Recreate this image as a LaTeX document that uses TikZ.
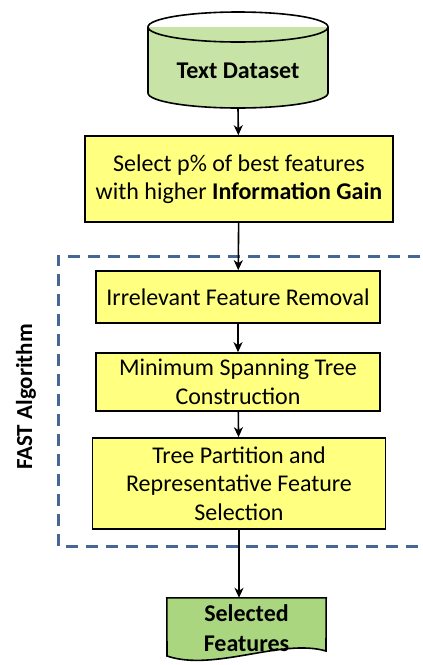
\documentclass[tikz,border=0pt]{standalone}
\usepackage{fontspec}
\setmainfont{Carlito}
\usetikzlibrary{arrows.meta,backgrounds}

\definecolor{dbgreen}{RGB}{199,227,165}
\definecolor{docgreen}{RGB}{169,214,126}
\definecolor{boxyellow}{RGB}{255,255,128}
\definecolor{fastblue}{RGB}{68,103,148}

\tikzset{
  procbox/.style={draw=black, line width=1.6pt, fill=boxyellow, align=center,
    inner sep=0pt, font=\fontsize{24}{28.5}\selectfont},
  flow/.style={-{Stealth[length=10pt,width=9pt,inset=3pt]}, line width=1.6pt},
}

\begin{document}
\begin{tikzpicture}[x=1pt,y=-1pt]
   \useasboundingbox (0,0) rectangle (423,665);
   % dashed frame round the FAST steps
   \draw[fastblue, line width=3pt, dash pattern=on 12pt off 8pt]
      (440,256) -- (58,256) -- (58,546) -- (440,546);
   \node[rotate=90, font=\bfseries\fontsize{23}{26}\selectfont] (fastlbl) at (26,397) {FAST Algorithm};
   % data base
   \fill[dbgreen] (148,27) rectangle (328,93);
   \fill[dbgreen] (238,93) ellipse [x radius=90, y radius=15];
   \draw[line width=1.6pt] (148,27) -- (148,93) arc[start angle=180, end angle=0, x radius=90, y radius=15] -- (328,27);
   \draw[line width=1.6pt] (238,27) ellipse [x radius=90, y radius=15];
   \node[font=\bfseries\fontsize{24}{28}\selectfont] (data) at (238,71) {Text Dataset};
   \coordinate (database) at (238,108);
   % steps
   \node[procbox, minimum width=308pt, minimum height=86pt] (sel) at (239,179)
      {Select p\% of best features\\with higher \textbf{Information Gain}};
   \node[procbox, minimum width=284pt, minimum height=52pt] (irr) at (238,297)
      {Irrelevant Feature Removal};
   \node[procbox, minimum width=284pt, minimum height=58pt] (mst) at (238,382)
      {Minimum Spanning Tree\\Construction};
   \node[procbox, minimum width=293pt, minimum height=91pt] (part) at (239,483.5)
      {Tree Partition and\\Representative Feature\\Selection};
   % output document
   \node[align=center, inner sep=0pt, minimum width=159pt, minimum height=60pt,
      font=\bfseries\fontsize{24}{30}\selectfont] (feat) at (246.5,628) {Selected\\Features};
   \begin{scope}[on background layer]
   \filldraw[fill=docgreen, line width=1.6pt] (feat.north west) -- (feat.north east) -- (326,651)
      .. controls (282,638) and (214,672) .. (167,656) -- cycle;
   \end{scope}
   % arrows
   \draw[flow] (database) -- (sel);
   \draw[flow] (sel) -- (irr);
   \draw[flow] (irr) -- (mst);
   \draw[flow] (mst) -- (part);
   \draw[flow] (part.south) -- (part.south |- feat.north);
\end{tikzpicture}
\end{document}
